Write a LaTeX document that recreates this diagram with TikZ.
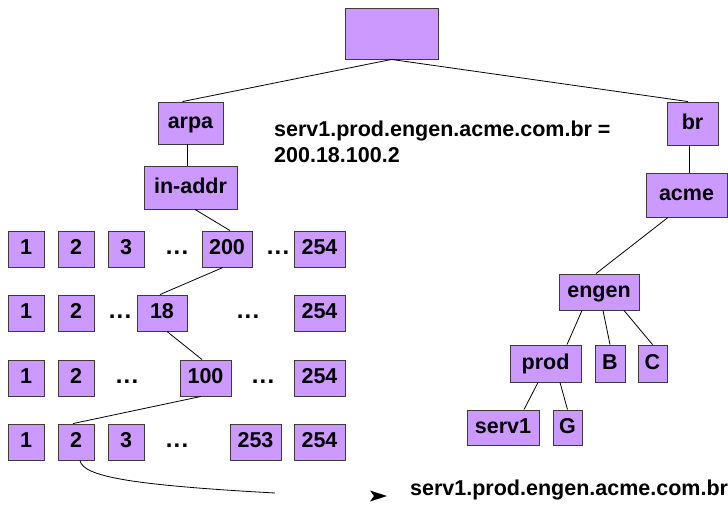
\documentclass[tikz,border=0pt]{standalone}
\usepackage{fontspec}
\setmainfont{Liberation Sans}
\definecolor{boxfill}{RGB}{204,153,255}
\definecolor{boxline}{RGB}{60,60,60}
\newcommand{\bx}[6]{\node[box, minimum width={(#3-#2)*1pt}, minimum height={(#5-#4)*1pt}] (#1) at ({(#2+#3)/2},{(#4+#5)/2}) {#6};}
\newcommand{\dt}[3]{\node[dots] (#1) at (#2,#3) {.\kern1.2pt.\kern1.2pt.};}
\begin{document}
\begin{tikzpicture}[x=1pt,y=-1pt,
  box/.style={draw=boxline, fill=boxfill, line width=0.9pt, inner sep=0pt,
    font=\fontsize{21.5}{24}\selectfont\bfseries, text height=15.5pt, text depth=4.5pt},
  lbl/.style={inner sep=0pt, font=\fontsize{21.5}{24}\selectfont\bfseries, text height=15.5pt, text depth=4.5pt},
  dots/.style={inner sep=0pt, font=\fontsize{24}{26}\selectfont\bfseries, text height=15pt, text depth=4.5pt},
  conn/.style={draw=black, line width=0.8pt}]
\useasboundingbox (0,0) rectangle (728,504);
% top
\bx{root}{345}{438}{8}{59}{}
\bx{arpa}{158}{223}{102}{144}{arpa}
\bx{br}{667}{718}{102}{145}{br}
\bx{inaddr}{144}{237}{166}{209}{in-addr}
\bx{acme}{646}{727}{173}{217}{acme}
% row 1
\bx{ra}{8}{44}{231}{267}{1}
\bx{rb}{58}{94}{231}{267}{2}
\bx{rc}{108}{144}{231}{267}{3}
\dt{rd}{177}{249}
\bx{re}{202}{252}{231}{267}{200}
\dt{rf}{278}{249}
\bx{rg}{294}{345}{231}{267}{254}
% row 2
\bx{sa}{8}{44}{295}{331}{1}
\bx{sb}{58}{94}{295}{331}{2}
\dt{sd}{120}{313}
\bx{se}{137}{187}{295}{331}{18}
\dt{sf}{248}{313}
\bx{sg}{294}{345}{295}{331}{254}
% row 3
\bx{ta}{8}{44}{360}{396}{1}
\bx{tb}{58}{94}{360}{396}{2}
\dt{td}{127}{378}
\bx{te}{180}{231}{360}{396}{100}
\dt{tf}{263}{378}
\bx{tg}{294}{345}{360}{396}{254}
% row 4
\bx{ua}{8}{44}{424}{460}{1}
\bx{ub}{58}{94}{424}{460}{2}
\bx{uc}{108}{144}{424}{460}{3}
\dt{ud}{177}{442}
\bx{ue}{230}{281}{424}{460}{253}
\bx{ug}{294}{345}{424}{460}{254}
% right tree
\bx{engen}{559}{639}{274}{310}{engen}
\bx{prod}{510}{581}{345}{382}{prod}
\bx{B}{595}{625}{345}{382}{B}
\bx{C}{638}{667}{345}{382}{C}
\bx{serv}{467}{539}{410}{445}{serv1}
\bx{G}{553}{582}{410}{445}{G}
% texts
\node[lbl, anchor=west, align=left, font=\fontsize{21.5}{26}\selectfont\bfseries, text height=, text depth=] (eq) at (274,142) {serv1.prod.engen.acme.com.br =\\200.18.100.2};
\node[lbl, anchor=west] (res) at (410,490) {serv1.prod.engen.acme.com.br};
% connectors
\draw[conn] (root.south) -- ([xshift=-8pt]arpa.north);
\draw[conn] (root.south) -- ([xshift=-4.5pt]br.north);
\draw[conn] ([xshift=-3.5pt]arpa.south) -- ([xshift=-3.5pt]arpa.south |- inaddr.north);
\draw[conn] ([xshift=-3.5pt]br.south) -- ([xshift=-3.5pt]br.south |- acme.north);
\draw[conn] ([xshift=4.5pt]inaddr.south) -- ([xshift=3pt]re.north);
\draw[conn] ([xshift=-4pt]re.south) -- ([xshift=-2pt]se.north);
\draw[conn] ([xshift=5pt]se.south) -- ([xshift=-3.5pt]te.north);
\draw[conn] ([xshift=-4.5pt]te.south) -- ([xshift=-3pt]ub.north);
\draw[conn] ([xshift=-18.5pt]acme.south) -- ([xshift=-3pt]engen.north);
\draw[conn] ([xshift=-17pt]engen.south) -- ([xshift=21.5pt]prod.north);
\draw[conn] ([xshift=4pt]engen.south) -- (B.north);
\draw[conn] ([xshift=25pt]engen.south) -- (C.north);
\draw[conn] ([xshift=-7.5pt]prod.south) -- ([xshift=21pt]serv.north);
\draw[conn] ([xshift=14.5pt]prod.south) -- (G.north);
\coordinate (cend) at (275,493);
\draw[conn] ([xshift=4pt]ub.south) .. controls +(3,16) and (130,485) .. (cend);
\coordinate (tip) at (387,496);
\fill[black] (tip) -- ++(-17,-5.5) -- ++(4,5.5) -- ++(-4,5.5) -- cycle;
\end{tikzpicture}
\end{document}
